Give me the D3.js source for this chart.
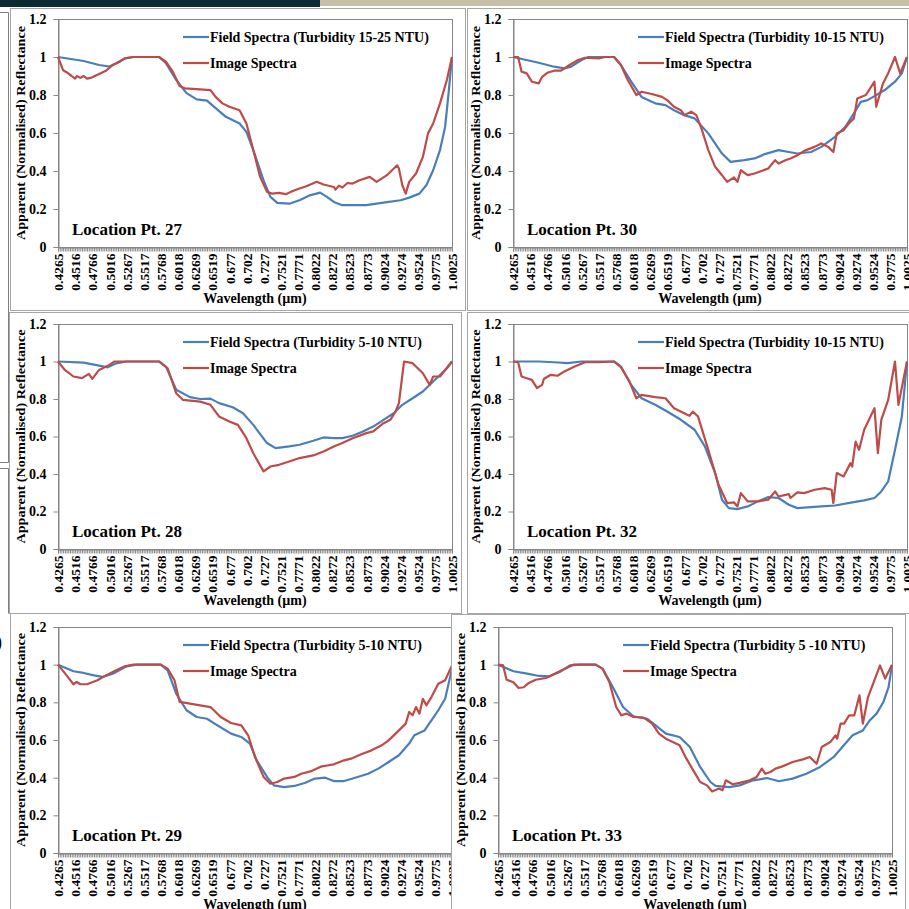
<!DOCTYPE html>
<html><head><meta charset="utf-8">
<script src="https://cdn.jsdelivr.net/npm/d3@7"></script>
<style>
html,body{margin:0;padding:0;background:#fff;}
svg{display:block;font-family:"Liberation Serif","Times New Roman",serif;font-weight:bold;}
</style></head>
<body>
<svg id="chart" width="909" height="909"></svg>
<script>
// ---- category (wavelength, µm) labels: every 10th band of 231 bands ----
const bandLabels = ["0.4265","0.4516","0.4766","0.5016","0.5267","0.5517","0.5768","0.6018","0.6269","0.6519","0.677","0.702","0.727","0.7521","0.7771","0.8022","0.8272","0.8523","0.8773","0.9024","0.9274","0.9524","0.9775","1.0025"];
const bandCount = 231;
const yTicks = [0,0.2,0.4,0.6,0.8,1,1.2];
const seriesNames = ["Field Spectra", "Image Spectra"];

// ---- series: [band index, normalised reflectance] ----
const pt27Field = [[0,1.0],[15,0.979],[24,0.958],[30,0.95],[34,0.967],[39,0.993],[44,1.0],[59,1.0],[63,0.967],[69,0.88],[75,0.81],[81,0.777],[87,0.77],[90,0.747],[98,0.685],[106,0.65],[110,0.606],[114,0.51],[120,0.351],[124,0.264],[128,0.232],[135,0.228],[141,0.246],[147,0.272],[153,0.286],[157,0.264],[161,0.237],[166,0.22],[180,0.22],[190,0.234],[200,0.246],[205,0.26],[211,0.281],[215,0.325],[219,0.404],[223,0.51],[226,0.633],[228,0.81],[230,1.0]];
const pt27Image = [[0,1.0],[3,0.93],[5,0.92],[8,0.90],[10,0.886],[11,0.9],[13,0.89],[15,0.9],[17,0.886],[19,0.89],[24,0.91],[28,0.928],[32,0.958],[36,0.975],[39,0.993],[44,1.0],[59,1.0],[63,0.975],[67,0.923],[71,0.847],[74,0.835],[83,0.83],[89,0.826],[92,0.79],[96,0.756],[100,0.738],[106,0.72],[110,0.65],[114,0.51],[118,0.369],[122,0.29],[125,0.281],[129,0.285],[133,0.278],[137,0.295],[141,0.308],[145,0.32],[151,0.343],[155,0.329],[161,0.316],[162,0.302],[164,0.323],[166,0.313],[169,0.337],[172,0.334],[176,0.351],[182,0.369],[186,0.343],[192,0.378],[198,0.43],[199,0.413],[201,0.325],[203,0.281],[205,0.343],[209,0.387],[213,0.474],[216,0.598],[219,0.65],[223,0.756],[227,0.879],[230,1.0]];
const pt30Field = [[0,1.0],[15,0.97],[24,0.949],[30,0.94],[34,0.949],[40,0.984],[44,1.0],[59,1.0],[63,0.958],[69,0.87],[75,0.79],[83,0.756],[89,0.747],[94,0.72],[100,0.694],[106,0.677],[114,0.598],[122,0.492],[127,0.448],[135,0.457],[141,0.466],[147,0.489],[155,0.51],[161,0.5],[166,0.492],[174,0.5],[180,0.527],[188,0.58],[194,0.633],[199,0.703],[203,0.764],[207,0.773],[211,0.794],[217,0.826],[223,0.87],[227,0.914],[230,1.0]];
const pt30Image = [[0,1.0],[3,1.0],[5,0.923],[8,0.914],[11,0.87],[15,0.861],[17,0.896],[20,0.917],[24,0.928],[28,0.928],[33,0.958],[38,0.984],[42,0.996],[50,0.993],[54,1.0],[59,1.0],[63,0.958],[67,0.879],[72,0.8],[75,0.817],[81,0.805],[87,0.79],[90,0.773],[94,0.738],[98,0.72],[100,0.694],[104,0.712],[107,0.694],[110,0.624],[114,0.51],[118,0.422],[122,0.378],[125,0.343],[129,0.366],[131,0.343],[133,0.404],[137,0.378],[141,0.387],[149,0.413],[153,0.457],[155,0.439],[159,0.457],[162,0.466],[166,0.483],[170,0.506],[176,0.527],[180,0.545],[184,0.527],[187,0.5],[189,0.598],[193,0.615],[196,0.65],[199,0.677],[201,0.782],[206,0.8],[211,0.87],[212,0.738],[216,0.861],[219,0.914],[223,1.0],[226,0.914],[230,1.0]];
const pt28Field = [[0,1.0],[15,0.994],[24,0.978],[29,0.969],[34,0.99],[40,1.0],[59,1.0],[63,0.973],[69,0.849],[77,0.81],[83,0.8],[89,0.802],[94,0.778],[102,0.756],[108,0.724],[114,0.662],[122,0.565],[127,0.538],[135,0.547],[141,0.556],[149,0.577],[155,0.595],[161,0.591],[166,0.591],[172,0.604],[178,0.627],[184,0.653],[190,0.689],[196,0.724],[201,0.769],[207,0.804],[213,0.84],[219,0.893],[223,0.928],[227,0.964],[230,1.0]];
const pt28Image = [[0,1.0],[4,0.955],[9,0.92],[14,0.911],[18,0.934],[20,0.907],[24,0.955],[30,0.982],[33,1.0],[44,1.0],[59,1.0],[64,0.964],[69,0.831],[73,0.795],[83,0.786],[89,0.769],[94,0.707],[100,0.68],[105,0.662],[110,0.591],[114,0.511],[120,0.414],[124,0.44],[129,0.449],[135,0.467],[141,0.485],[149,0.499],[155,0.52],[161,0.547],[166,0.565],[172,0.591],[180,0.618],[184,0.627],[190,0.671],[194,0.689],[197,0.733],[199,0.778],[202,1.0],[207,0.991],[213,0.937],[217,0.875],[219,0.92],[223,0.92],[230,1.0]];
const pt32Field = [[0,1.0],[15,1.0],[24,0.996],[32,0.991],[40,1.0],[59,1.0],[63,0.973],[69,0.875],[75,0.804],[83,0.769],[90,0.733],[98,0.689],[106,0.636],[112,0.547],[118,0.405],[122,0.263],[126,0.218],[131,0.213],[137,0.227],[143,0.254],[149,0.277],[155,0.272],[161,0.236],[166,0.218],[180,0.227],[188,0.232],[199,0.25],[205,0.259],[211,0.272],[215,0.307],[219,0.36],[223,0.529],[227,0.707],[230,1.0]];
const pt32Image = [[0,1.0],[3,0.996],[5,0.92],[8,0.911],[11,0.902],[14,0.858],[17,0.875],[18,0.907],[22,0.929],[26,0.924],[30,0.947],[36,0.973],[42,0.996],[50,0.996],[59,1.0],[63,0.97],[68,0.893],[72,0.804],[75,0.822],[83,0.81],[89,0.804],[94,0.751],[100,0.724],[103,0.71],[105,0.733],[108,0.707],[114,0.529],[120,0.343],[125,0.245],[129,0.249],[131,0.227],[133,0.298],[137,0.254],[143,0.254],[149,0.263],[153,0.307],[155,0.28],[161,0.293],[162,0.272],[166,0.302],[170,0.298],[176,0.316],[182,0.325],[186,0.316],[187,0.245],[189,0.405],[193,0.387],[197,0.458],[198,0.44],[200,0.573],[202,0.529],[205,0.636],[211,0.751],[213,0.511],[215,0.689],[219,0.795],[223,1.0],[225,0.769],[230,1.0]];
const pt29Field = [[0,1.0],[9,0.965],[15,0.956],[21,0.943],[26,0.935],[32,0.952],[40,0.991],[46,1.0],[60,1.0],[64,0.97],[69,0.846],[75,0.758],[81,0.722],[87,0.713],[93,0.678],[101,0.634],[107,0.616],[112,0.581],[116,0.492],[122,0.404],[126,0.359],[132,0.35],[138,0.356],[144,0.372],[150,0.395],[156,0.4],[161,0.382],[167,0.382],[173,0.398],[181,0.421],[187,0.448],[193,0.483],[199,0.519],[205,0.581],[208,0.625],[214,0.651],[218,0.704],[222,0.758],[226,0.819],[230,0.979]];
const pt29Image = [[0,1.0],[5,0.943],[9,0.896],[11,0.908],[13,0.896],[17,0.896],[23,0.917],[28,0.943],[34,0.97],[39,0.991],[44,1.0],[60,1.0],[64,0.979],[68,0.917],[71,0.802],[77,0.793],[83,0.784],[89,0.775],[95,0.722],[101,0.69],[107,0.678],[111,0.625],[115,0.51],[120,0.404],[124,0.368],[128,0.377],[132,0.395],[138,0.404],[142,0.421],[148,0.435],[154,0.46],[158,0.466],[161,0.471],[167,0.492],[171,0.501],[177,0.524],[183,0.545],[189,0.572],[193,0.598],[199,0.651],[203,0.687],[205,0.749],[207,0.731],[209,0.775],[211,0.74],[213,0.819],[215,0.784],[218,0.828],[222,0.899],[226,0.917],[230,0.996]];
const pt33Field = [[0,1.0],[9,0.965],[17,0.952],[24,0.94],[30,0.938],[36,0.961],[42,0.996],[48,1.0],[57,1.0],[61,0.979],[67,0.881],[73,0.775],[79,0.726],[87,0.713],[92,0.678],[98,0.634],[106,0.616],[112,0.563],[118,0.457],[124,0.377],[127,0.356],[135,0.35],[141,0.359],[149,0.386],[157,0.398],[164,0.381],[172,0.395],[180,0.421],[188,0.457],[196,0.51],[201,0.563],[207,0.625],[213,0.651],[217,0.704],[221,0.74],[225,0.802],[228,0.881],[230,0.996]];
const pt33Image = [[0,1.0],[3,0.996],[5,0.92],[9,0.907],[12,0.876],[15,0.88],[18,0.903],[22,0.92],[28,0.929],[34,0.956],[40,0.982],[44,1.0],[57,1.0],[61,0.979],[65,0.908],[69,0.775],[72,0.731],[75,0.74],[79,0.722],[85,0.719],[90,0.687],[94,0.634],[98,0.607],[102,0.589],[106,0.572],[110,0.501],[114,0.439],[118,0.377],[122,0.359],[125,0.327],[129,0.342],[131,0.333],[133,0.386],[137,0.365],[141,0.372],[147,0.386],[151,0.404],[154,0.448],[156,0.421],[159,0.43],[162,0.448],[166,0.46],[172,0.483],[178,0.497],[182,0.51],[186,0.474],[189,0.563],[194,0.589],[197,0.625],[198,0.607],[200,0.687],[202,0.687],[205,0.731],[208,0.731],[211,0.837],[213,0.687],[216,0.828],[219,0.899],[223,0.996],[226,0.926],[230,1.0]];

const turbidity = ["15-25 NTU","10-15 NTU","5-10 NTU","10-15 NTU","5-10 NTU","5 -10 NTU"];
const locations = ["Location Pt. 27","Location Pt. 30","Location Pt. 28","Location Pt. 32","Location Pt. 29","Location Pt. 33"];
const fieldSeries = [pt27Field, pt30Field, pt28Field, pt32Field, pt29Field, pt33Field];
const imageSeries = [pt27Image, pt30Image, pt28Image, pt32Image, pt29Image, pt33Image];

// ---- layout (positions only) ----
const layout = [
  {frame:[10,8,455,302],  plot:[58,19,394,228]},
  {frame:[467,8,450,302], plot:[513,19,394,228]},
  {frame:[9,312,452,301], plot:[58,324,394,225]},
  {frame:[467,312,450,301], plot:[513,324,394,225]},
  {frame:[10,613,441,300], plot:[58,627,394,226]},
  {frame:[451,614,454,300], plot:[498,627,394,226]}
];
const blue = "#4a7ebb", red = "#be4b48", axisGray = "#868686", frameGray = "#a6a6a6";

const svg = d3.select("#chart");

// header bands
svg.append("rect").attr("x",0).attr("y",0).attr("width",320).attr("height",7).attr("fill","#0c2a31");
svg.append("rect").attr("x",320).attr("y",0).attr("width",589).attr("height",6).attr("fill","#c7c0a8");

// background decorations on the far left
const deco = svg.append("g").attr("stroke","#7f7f7f").attr("fill","none").attr("stroke-width",1);
deco.append("path").attr("d","M0,12.5H8.5V462.5H0 M0,468.5H8.5V613.5");
svg.append("text").attr("x",-4).attr("y",648).attr("font-size",18).attr("font-weight","normal").text(")");

layout.forEach((L, i) => {
  const g = svg.append("g");
  const [fx,fy,fw,fh] = L.frame;
  g.append("rect").attr("x",fx+0.5).attr("y",fy+0.5).attr("width",fw).attr("height",fh)
    .attr("fill","#fff").attr("stroke",frameGray);
  const [px,py,pw,ph] = L.plot;
  const x = d3.scaleLinear().domain([0,bandCount-1]).range([px,px+pw]);
  const y = d3.scaleLinear().domain([0,1.2]).range([py+ph,py]);

  // plot border
  g.append("rect").attr("x",px+0.5).attr("y",py+0.5).attr("width",pw).attr("height",ph)
    .attr("fill","none").attr("stroke",axisGray);

  // y axis
  const ya = g.append("g").attr("transform",`translate(${px+0.5},0)`)
    .call(d3.axisLeft(y).tickValues(yTicks).tickSize(5).tickPadding(7).tickFormat(v => String(+v.toFixed(1))));
  ya.select(".domain").attr("stroke",axisGray);
  ya.selectAll(".tick line").attr("stroke",axisGray);
  ya.selectAll("text").attr("font-size",14).attr("font-family","Liberation Serif, serif").attr("font-weight","bold").attr("fill","#000");

  // x axis
  const xa = g.append("g").attr("transform",`translate(0,${py+ph+0.5})`)
    .call(d3.axisBottom(x).tickValues(d3.range(bandCount)).tickSize(4)
      .tickFormat(b => b % 10 === 0 ? bandLabels[b/10] : ""));
  xa.select(".domain").attr("stroke",axisGray);
  xa.selectAll(".tick line").attr("stroke",axisGray);
  xa.selectAll("text").attr("font-size",13.5).attr("font-family","Liberation Serif, serif").attr("font-weight","bold").attr("fill","#000")
    .attr("transform","rotate(-90)").attr("text-anchor","end").attr("x",-6).attr("y",0).attr("dy","0.35em");

  // axis titles
  g.append("text").attr("transform",`translate(${px-33},${py+ph/2}) rotate(-90)`)
    .attr("text-anchor","middle").attr("font-size",13).attr("textLength",214).attr("lengthAdjust","spacingAndGlyphs")
    .text("Apparent (Normalised) Reflectance");
  g.append("text").attr("x",px+197).attr("y",py+ph+56).attr("text-anchor","middle").attr("font-size",14)
    .text("Wavelength (µm)");

  // lines
  const line = d3.line().x(d => x(d[0])).y(d => y(d[1]));
  g.append("path").datum(fieldSeries[i]).attr("d",line).attr("fill","none").attr("stroke",blue).attr("stroke-width",2.2).attr("stroke-linejoin","round");
  g.append("path").datum(imageSeries[i]).attr("d",line).attr("fill","none").attr("stroke",red).attr("stroke-width",2.2).attr("stroke-linejoin","round");

  // legend
  const lx = px + 125, ly = py + 18;
  const legendItems = [
    {c: blue, t: `${seriesNames[0]} (Turbidity ${turbidity[i]})`, dy: 0},
    {c: red,  t: seriesNames[1], dy: 26}
  ];
  legendItems.forEach(it => {
    g.append("line").attr("x1",lx).attr("x2",lx+26).attr("y1",ly+it.dy).attr("y2",ly+it.dy)
      .attr("stroke",it.c).attr("stroke-width",2.2);
    g.append("text").attr("x",lx+27).attr("y",ly+it.dy+5).attr("font-size",14).text(it.t);
  });

  // location label
  g.append("text").attr("x",px+14).attr("y",py+ph-12).attr("font-size",17).text(locations[i]);
});
</script>
</body></html>
